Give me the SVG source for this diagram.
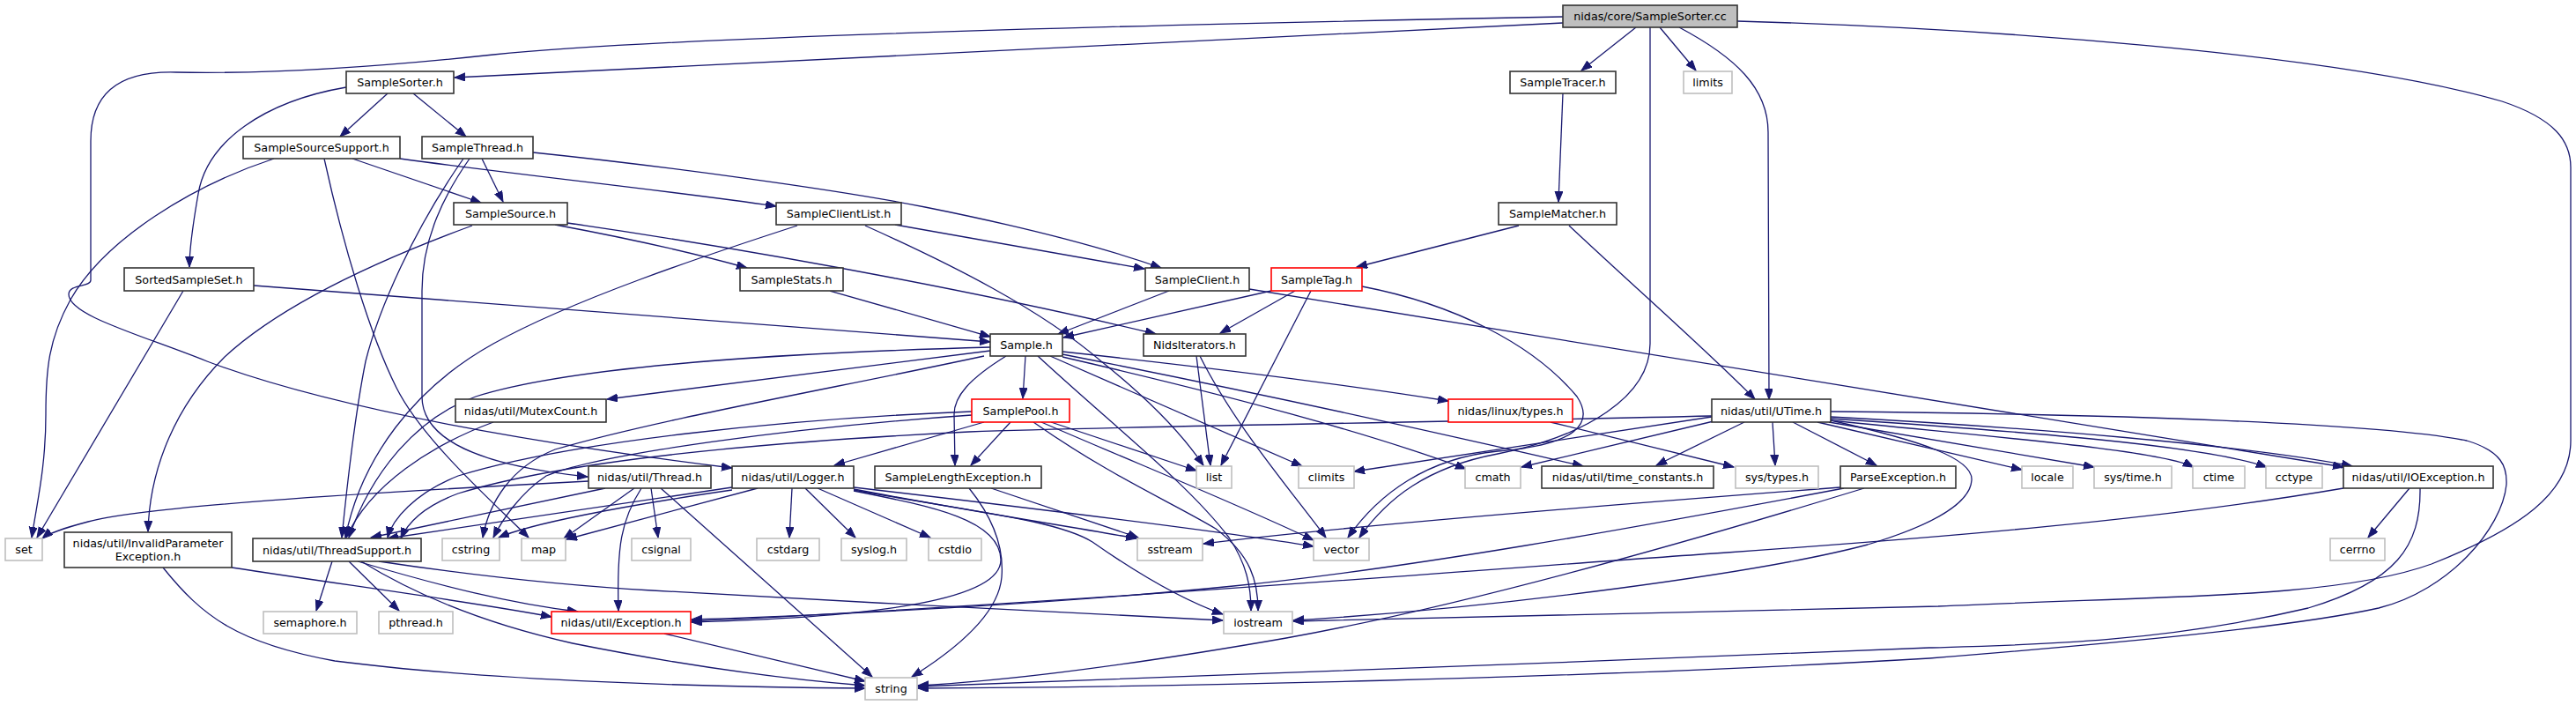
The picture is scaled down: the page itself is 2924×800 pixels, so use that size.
<svg xmlns="http://www.w3.org/2000/svg" width="2924" height="800" viewBox="0 0 2924 800">
<defs>
<style>
.node rect{fill:#fff;stroke:#333;stroke-width:1.6}
.ext rect{stroke:#bfbfbf}
.red rect{stroke:#ff0000}
.root rect{fill:#bfbfbf}
.node text{font-family:"DejaVu Sans",sans-serif;font-size:12.7px;fill:#000;text-anchor:middle}
#edges path{fill:none;stroke:#191970;stroke-width:1.3;marker-end:url(#a)}
</style>
<marker id="a" markerWidth="14" markerHeight="10" refX="12" refY="4.5" orient="auto" markerUnits="userSpaceOnUse"><path d="M0,0 L12,4.5 L0,9 z" fill="#191970" stroke="#191970" stroke-width="1"/></marker>
</defs>
<rect width="2924" height="800" fill="#fff"/>
<g id="edges">
<path d="M1774,26 C1500,38 900,70 516,88"/>
<path d="M1774,19 C1300,28 760,42 560,62 C430,76 300,84 200,82 C130,80 103,110 103,160 L103,318 C103,326 78,322 78,334 C78,358 160,380 235,410 C380,465 620,505 831,531"/>
<path d="M1857,31 L1795,80"/>
<path d="M1884,31 L1925,80"/>
<path d="M1873,31 L1873,390 C1873,450 1800,495 1700,515 C1620,530 1575,565 1543,610"/>
<path d="M1906,31 C1970,65 2007,100 2007,150 L2008,453"/>
<path d="M1972,24 C2250,32 2650,60 2840,115 C2900,135 2918,160 2918,190 L2918,500 C2918,560 2860,600 2760,640 C2650,680 2450,676 2200,688 C1900,697 1600,702 1468,705"/>
<path d="M440,106 L386,155"/>
<path d="M469,106 L529,155"/>
<path d="M393,99 C300,115 235,160 225,220 C218,260 215,285 215,303"/>
<path d="M400,180 L546,230"/>
<path d="M311,180 C220,210 120,270 80,340 C55,385 52,420 52,470 C52,530 42,570 36,610"/>
<path d="M368,180 C390,280 420,380 450,440 C480,500 560,570 600,610"/>
<path d="M454,180 C600,200 750,215 881,234"/>
<path d="M547,180 L571,229"/>
<path d="M526,180 C470,260 430,350 415,410 C405,460 395,540 388,610"/>
<path d="M533,180 C505,220 479,270 479,330 L479,450 C479,505 560,530 667,541"/>
<path d="M605,173 C750,188 950,215 1050,235 C1150,255 1250,280 1318,304"/>
<path d="M630,255 C700,268 780,285 848,304"/>
<path d="M644,253 C900,290 1150,340 1312,379"/>
<path d="M536,256 C430,295 320,345 255,405 C200,460 170,530 168,603"/>
<path d="M1016,255 L1299,305"/>
<path d="M982,256 C1080,300 1180,350 1250,410 C1300,450 1340,490 1366,528"/>
<path d="M905,256 C800,290 650,340 560,390 C470,440 410,520 392,610"/>
<path d="M288,324 C600,350 900,370 1124,388"/>
<path d="M208,330 L42,610"/>
<path d="M942,330 L1124,382"/>
<path d="M1327,330 L1201,379"/>
<path d="M1418,328 L2660,530"/>
<path d="M1443,330 L1207,383"/>
<path d="M1470,330 L1385,378"/>
<path d="M1488,330 L1386,528"/>
<path d="M1546,325 C1650,345 1740,390 1790,450 C1810,480 1790,505 1700,512 C1620,520 1565,560 1530,610"/>
<path d="M1774,106 L1769,229"/>
<path d="M1724,256 L1540,303"/>
<path d="M1781,256 C1860,330 1940,400 1992,453"/>
<path d="M1358,404 L1374,528"/>
<path d="M1362,404 C1400,480 1460,550 1505,610"/>
<path d="M1142,404 C1100,430 1083,450 1083,470 L1084,528"/>
<path d="M1164,404 L1161,452"/>
<path d="M1178,404 C1260,480 1350,550 1395,610 C1415,640 1420,665 1420,693"/>
<path d="M1192,404 L1478,529"/>
<path d="M1206,405 C1400,450 1550,490 1664,532"/>
<path d="M1206,402 C1450,450 1650,495 1797,529"/>
<path d="M1206,399 C1400,420 1550,440 1644,455"/>
<path d="M1124,398 L689,453"/>
<path d="M1124,394 C900,400 650,415 540,450 C470,475 420,540 396,610"/>
<path d="M1117,404 C950,440 750,475 630,510 C580,530 555,570 548,610"/>
<path d="M1103,467 C900,475 650,500 520,540 C470,560 445,590 440,610"/>
<path d="M1103,471 C900,485 680,515 620,540 C590,560 570,590 560,610"/>
<path d="M1117,479 L947,528"/>
<path d="M1147,479 L1102,528"/>
<path d="M1173,479 C1260,540 1330,570 1380,600 C1420,630 1428,660 1428,693"/>
<path d="M1182,479 C1300,530 1400,570 1491,613"/>
<path d="M1193,479 L1358,534"/>
<path d="M560,479 C490,505 420,550 393,610"/>
<path d="M687,554 L421,610"/>
<path d="M720,554 L640,611"/>
<path d="M739,554 L747,610"/>
<path d="M728,554 C705,590 700,620 702,693"/>
<path d="M750,554 L990,768"/>
<path d="M668,546 C400,560 160,575 100,592 C70,600 55,605 48,611"/>
<path d="M831,553 L440,611"/>
<path d="M831,556 C700,575 600,595 566,610"/>
<path d="M860,554 L643,612"/>
<path d="M899,554 L896,610"/>
<path d="M914,554 L971,610"/>
<path d="M928,554 L1056,610"/>
<path d="M969,555 C1100,580 1200,595 1290,611"/>
<path d="M969,553 C1200,580 1400,605 1491,620"/>
<path d="M969,556 C1100,580 1200,590 1240,615 C1290,650 1340,680 1388,697"/>
<path d="M969,557 C1060,575 1135,590 1136,635 C1137,680 1000,700 785,706"/>
<path d="M1100,554 C1125,585 1140,620 1137,655 C1133,700 1080,740 1035,768"/>
<path d="M1125,554 L1292,610"/>
<path d="M2012,479 L2015,528"/>
<path d="M2035,479 L2130,528"/>
<path d="M2063,479 L2295,533"/>
<path d="M2076,479 L2377,530"/>
<path d="M2078,477 C2250,495 2450,510 2490,530"/>
<path d="M2078,475 C2300,490 2500,505 2573,530"/>
<path d="M2078,473 C2300,485 2550,505 2670,529"/>
<path d="M1943,472 C1700,478 1300,483 1100,490 C900,500 650,520 520,560 C480,575 462,595 455,611"/>
<path d="M1943,473 L1537,535"/>
<path d="M1945,478 L1727,530"/>
<path d="M1980,479 L1880,528"/>
<path d="M2078,477 C2180,500 2240,520 2238,545 C2236,575 2180,600 2120,618 C2000,650 1700,690 1468,704"/>
<path d="M2078,467 C2400,470 2700,480 2800,500 C2840,512 2846,530 2845,550 C2840,600 2780,670 2700,690 C2600,712 2400,730 2190,747 C1800,770 1300,780 1042,781"/>
<path d="M2089,553 C1800,575 1500,600 1366,617"/>
<path d="M2093,554 C1850,600 1600,645 1400,665 C1200,685 950,698 785,703"/>
<path d="M2116,554 C1900,620 1650,690 1460,724 C1300,752 1150,772 1042,778"/>
<path d="M2735,554 L2688,610"/>
<path d="M2660,554 C2450,590 2200,610 1960,627 C1700,645 1200,685 785,705"/>
<path d="M2747,554 C2748,620 2720,660 2620,690 C2450,730 2300,732 2190,735 C1800,750 1300,772 1042,779"/>
<path d="M377,637 L359,693"/>
<path d="M396,637 L453,693"/>
<path d="M406,637 C500,665 580,685 656,694"/>
<path d="M430,637 C550,655 650,665 740,670 C950,682 1200,695 1388,704"/>
<path d="M410,637 C480,680 560,710 650,730 C800,760 920,773 982,778"/>
<path d="M263,644 C400,665 550,685 626,700"/>
<path d="M185,644 C230,700 270,730 380,750 C550,772 800,780 982,781"/>
<path d="M754,719 L982,773"/>
<path d="M1760,479 L1968,530"/>
</g>
<g id="n_cc" class="node root"><rect x="1774" y="6" width="198" height="25"/><text x="1873" y="23">nidas/core/SampleSorter.cc</text></g>
<g id="n_SampleSorter" class="node"><rect x="393" y="81" width="122" height="25"/><text x="454" y="98">SampleSorter.h</text></g>
<g id="n_SampleTracer" class="node"><rect x="1714" y="81" width="120" height="25"/><text x="1774" y="98">SampleTracer.h</text></g>
<g id="n_limits" class="node ext"><rect x="1911" y="81" width="55" height="25"/><text x="1938.5" y="98">limits</text></g>
<g id="n_SampleSourceSupport" class="node"><rect x="276" y="155" width="178" height="25"/><text x="365" y="172">SampleSourceSupport.h</text></g>
<g id="n_SampleThread" class="node"><rect x="479" y="155" width="126" height="25"/><text x="542" y="172">SampleThread.h</text></g>
<g id="n_SampleSource" class="node"><rect x="515" y="230" width="129" height="25"/><text x="579.5" y="247">SampleSource.h</text></g>
<g id="n_SampleClientList" class="node"><rect x="881" y="230" width="142" height="25"/><text x="952" y="247">SampleClientList.h</text></g>
<g id="n_SampleMatcher" class="node"><rect x="1701" y="230" width="134" height="25"/><text x="1768" y="247">SampleMatcher.h</text></g>
<g id="n_SortedSampleSet" class="node"><rect x="141" y="304" width="147" height="26"/><text x="214.5" y="321.5">SortedSampleSet.h</text></g>
<g id="n_SampleStats" class="node"><rect x="840" y="304" width="117" height="26"/><text x="898.5" y="321.5">SampleStats.h</text></g>
<g id="n_SampleClient" class="node"><rect x="1300" y="304" width="118" height="26"/><text x="1359" y="321.5">SampleClient.h</text></g>
<g id="n_SampleTag" class="node red"><rect x="1443" y="304" width="103" height="26"/><text x="1494.5" y="321.5">SampleTag.h</text></g>
<g id="n_Sample" class="node"><rect x="1124" y="379" width="82" height="25"/><text x="1165" y="396">Sample.h</text></g>
<g id="n_NidsIterators" class="node"><rect x="1298" y="379" width="116" height="25"/><text x="1356" y="396">NidsIterators.h</text></g>
<g id="n_MutexCount" class="node"><rect x="517" y="453" width="171" height="26"/><text x="602.5" y="470.5">nidas/util/MutexCount.h</text></g>
<g id="n_SamplePool" class="node red"><rect x="1103" y="453" width="111" height="26"/><text x="1158.5" y="470.5">SamplePool.h</text></g>
<g id="n_linuxtypes" class="node red"><rect x="1644" y="453" width="141" height="26"/><text x="1714.5" y="470.5">nidas/linux/types.h</text></g>
<g id="n_UTime" class="node"><rect x="1943" y="453" width="135" height="26"/><text x="2010.5" y="470.5">nidas/util/UTime.h</text></g>
<g id="n_Thread" class="node"><rect x="668" y="529" width="139" height="25"/><text x="737.5" y="546">nidas/util/Thread.h</text></g>
<g id="n_Logger" class="node"><rect x="831" y="529" width="138" height="25"/><text x="900" y="546">nidas/util/Logger.h</text></g>
<g id="n_SampleLengthException" class="node"><rect x="993" y="529" width="189" height="25"/><text x="1087.5" y="546">SampleLengthException.h</text></g>
<g id="n_list" class="node ext"><rect x="1358" y="529" width="40" height="25"/><text x="1378" y="546">list</text></g>
<g id="n_climits" class="node ext"><rect x="1474" y="529" width="63" height="25"/><text x="1505.5" y="546">climits</text></g>
<g id="n_cmath" class="node ext"><rect x="1663" y="529" width="63" height="25"/><text x="1694.5" y="546">cmath</text></g>
<g id="n_time_constants" class="node"><rect x="1750" y="529" width="195" height="25"/><text x="1847.5" y="546">nidas/util/time_constants.h</text></g>
<g id="n_systypes" class="node ext"><rect x="1970" y="529" width="94" height="25"/><text x="2017" y="546">sys/types.h</text></g>
<g id="n_ParseException" class="node"><rect x="2089" y="529" width="131" height="25"/><text x="2154.5" y="546">ParseException.h</text></g>
<g id="n_locale" class="node ext"><rect x="2295" y="529" width="58" height="25"/><text x="2324" y="546">locale</text></g>
<g id="n_systime" class="node ext"><rect x="2377" y="529" width="88" height="25"/><text x="2421" y="546">sys/time.h</text></g>
<g id="n_ctime" class="node ext"><rect x="2489" y="529" width="59" height="25"/><text x="2518.5" y="546">ctime</text></g>
<g id="n_cctype" class="node ext"><rect x="2572" y="529" width="64" height="25"/><text x="2604" y="546">cctype</text></g>
<g id="n_IOException" class="node"><rect x="2660" y="529" width="170" height="25"/><text x="2745" y="546">nidas/util/IOException.h</text></g>
<g id="n_set" class="node ext"><rect x="6" y="611" width="42" height="25"/><text x="27" y="628">set</text></g>
<g id="n_InvalidParameterException" class="node"><rect x="73" y="604" width="190" height="40"/><text x="168" y="621">nidas/util/InvalidParameter</text><text x="168" y="635.5">Exception.h</text></g>
<g id="n_ThreadSupport" class="node"><rect x="287" y="611" width="191" height="26"/><text x="382.5" y="628.5">nidas/util/ThreadSupport.h</text></g>
<g id="n_cstring" class="node ext"><rect x="502" y="611" width="65" height="25"/><text x="534.5" y="628">cstring</text></g>
<g id="n_map" class="node ext"><rect x="592" y="611" width="50" height="25"/><text x="617" y="628">map</text></g>
<g id="n_csignal" class="node ext"><rect x="717" y="611" width="67" height="25"/><text x="750.5" y="628">csignal</text></g>
<g id="n_cstdarg" class="node ext"><rect x="859" y="611" width="71" height="25"/><text x="894.5" y="628">cstdarg</text></g>
<g id="n_syslog" class="node ext"><rect x="955" y="611" width="74" height="25"/><text x="992" y="628">syslog.h</text></g>
<g id="n_cstdio" class="node ext"><rect x="1054" y="611" width="60" height="25"/><text x="1084" y="628">cstdio</text></g>
<g id="n_sstream" class="node ext"><rect x="1291" y="611" width="74" height="25"/><text x="1328" y="628">sstream</text></g>
<g id="n_vector" class="node ext"><rect x="1491" y="611" width="63" height="25"/><text x="1522.5" y="628">vector</text></g>
<g id="n_cerrno" class="node ext"><rect x="2645" y="611" width="62" height="25"/><text x="2676" y="628">cerrno</text></g>
<g id="n_semaphore" class="node ext"><rect x="299" y="694" width="106" height="25"/><text x="352" y="711">semaphore.h</text></g>
<g id="n_pthread" class="node ext"><rect x="430" y="694" width="84" height="25"/><text x="472" y="711">pthread.h</text></g>
<g id="n_Exception" class="node red"><rect x="626" y="694" width="158" height="25"/><text x="705" y="711">nidas/util/Exception.h</text></g>
<g id="n_iostream" class="node ext"><rect x="1389" y="694" width="78" height="25"/><text x="1428" y="711">iostream</text></g>
<g id="n_string" class="node ext"><rect x="982" y="769" width="59" height="25"/><text x="1011.5" y="786">string</text></g>
</svg>
